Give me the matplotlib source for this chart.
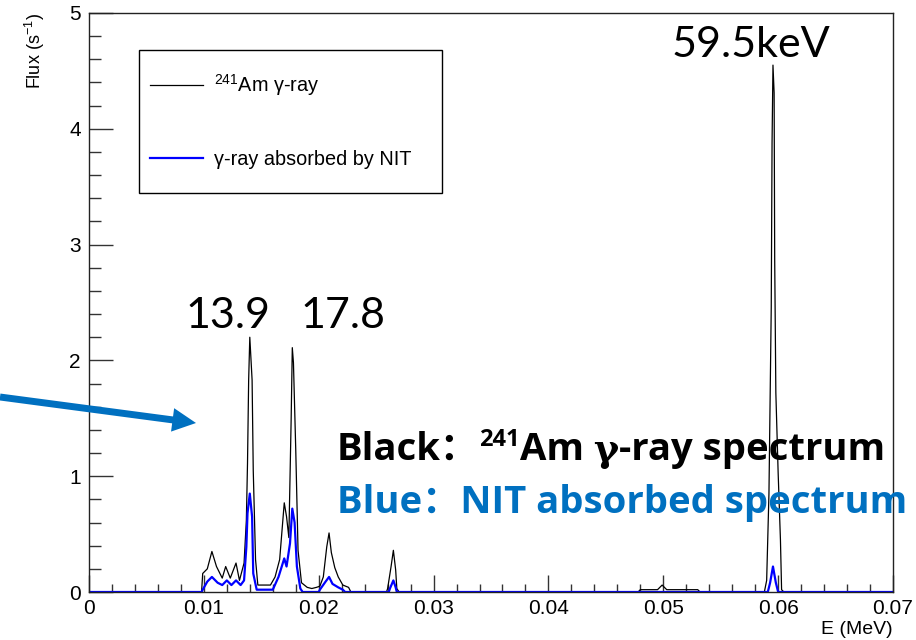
import matplotlib
matplotlib.use("Agg")
import matplotlib.pyplot as plt
from matplotlib.ticker import MultipleLocator
from matplotlib.patches import Rectangle

plt.rcParams['font.family'] = ['Liberation Sans', 'DejaVu Sans']
plt.rcParams['mathtext.fontset'] = 'custom'
plt.rcParams['mathtext.rm'] = 'Liberation Sans'
plt.rcParams['mathtext.it'] = 'Liberation Sans:italic'
plt.rcParams['mathtext.bf'] = 'Liberation Sans:bold'

# ---------------- data ----------------
black_E = [0.0, 0.0098, 0.0099, 0.0103, 0.0107, 0.0111, 0.0116, 0.0119, 0.0123, 0.0128,
           0.0131, 0.0135, 0.0137, 0.0138, 0.0139, 0.0140, 0.0142, 0.0143, 0.0145, 0.0147,
           0.0158, 0.0162, 0.0166, 0.0170, 0.0172, 0.0174, 0.0176, 0.0177, 0.0178, 0.0180,
           0.0182, 0.0185, 0.0190, 0.0194, 0.0198, 0.0201, 0.0204, 0.0207, 0.0209, 0.0211,
           0.0214, 0.0217, 0.0221, 0.0226, 0.0228, 0.0259, 0.0260, 0.0263, 0.0265, 0.0267,
           0.0268, 0.0270, 0.0478, 0.0480, 0.0495, 0.0499, 0.0503, 0.0530, 0.0532, 0.0588,
           0.0590, 0.0592, 0.0594, 0.05947, 0.05955, 0.05965, 0.0597, 0.0598, 0.0600, 0.0602,
           0.0603, 0.0605, 0.0700]
black_F = [0, 0, 0.16, 0.20, 0.35, 0.22, 0.12, 0.22, 0.12, 0.25,
           0.10, 0.25, 0.62, 1.11, 1.83, 2.20, 1.83, 1.05, 0.28, 0.06,
           0.06, 0.13, 0.28, 0.77, 0.65, 0.47, 1.49, 2.11, 1.98, 1.23,
           0.36, 0.08, 0.04, 0.03, 0.04, 0.05, 0.13, 0.39, 0.51, 0.34,
           0.21, 0.13, 0.06, 0.04, 0.0, 0.0, 0.03, 0.22, 0.36, 0.19,
           0.03, 0.0, 0.0, 0.02, 0.02, 0.06, 0.02, 0.02, 0.0, 0.0,
           0.10, 0.85, 2.46, 3.88, 4.55, 4.31, 2.87, 1.72, 1.03, 0.45,
           0.02, 0.0, 0.0]

blue_E = [0.0, 0.0098, 0.0099, 0.0103, 0.0107, 0.0112, 0.0116, 0.0120, 0.0124, 0.0128,
          0.0132, 0.0135, 0.0137, 0.0138, 0.0140, 0.0142, 0.0143, 0.0146, 0.0160, 0.0165,
          0.0170, 0.0172, 0.0175, 0.0177, 0.0179, 0.0181, 0.0184, 0.0186, 0.0200, 0.0201,
          0.0206, 0.0209, 0.0212, 0.0217, 0.0221, 0.0223, 0.0261, 0.0262, 0.0265, 0.0267,
          0.0268, 0.0591, 0.0593, 0.05955, 0.0598, 0.0600, 0.0700]
blue_F = [0, 0, 0.02, 0.09, 0.13, 0.08, 0.06, 0.10, 0.06, 0.10,
          0.06, 0.10, 0.39, 0.68, 0.85, 0.65, 0.16, 0.02, 0.02, 0.13,
          0.29, 0.22, 0.42, 0.72, 0.60, 0.22, 0.03, 0, 0, 0.02,
          0.09, 0.13, 0.07, 0.04, 0.02, 0, 0, 0.03, 0.10, 0.04,
          0, 0, 0.08, 0.22, 0.08, 0, 0]

x_ticks = [0, 0.01, 0.02, 0.03, 0.04, 0.05, 0.06, 0.07]
x_tick_labels = ["0", "0.01", "0.02", "0.03", "0.04", "0.05", "0.06", "0.07"]
y_ticks = [0, 1, 2, 3, 4, 5]
y_tick_labels = ["0", "1", "2", "3", "4", "5"]

peak_labels = ["13.9", "17.8", "59.5keV"]
peak_label_E = [0.0121, 0.0221, 0.0576]
peak_label_F = [2.28, 2.28, 4.62]

# ---------------- figure ----------------
fig = plt.figure(figsize=(9.16, 6.4), dpi=100)
ax = fig.add_axes([89/916, 48/640, 804/916, 579/640])

ax.plot(black_E, black_F, color='black', lw=0.9, label=r'$^{241}$Am γ-ray')
ax.plot(blue_E, blue_F, color='#0000ff', lw=1.6, label='γ-ray absorbed by NIT')

ax.set_xlim(0, 0.07)
ax.set_ylim(0, 5)
ax.set_xticks(x_ticks)
ax.set_xticklabels(x_tick_labels)
ax.set_yticks(y_ticks)
ax.set_yticklabels(y_tick_labels)
ax.xaxis.set_minor_locator(MultipleLocator(0.002))
ax.yaxis.set_minor_locator(MultipleLocator(0.2))
ax.tick_params(axis='both', which='both', direction='in', top=False, right=False,
               color='#333333', width=1.0, labelsize=15)
ax.tick_params(axis='x', which='major', length=12.5, pad=5)
ax.tick_params(axis='x', which='minor', length=6)
ax.tick_params(axis='y', which='major', length=17, pad=6)
ax.tick_params(axis='y', which='minor', length=8.5)
for s in ax.spines.values():
    s.set_color('#222222')
    s.set_linewidth(1.0)

ax.set_xlabel('E (MeV)', loc='right', fontsize=14, labelpad=2)
ax.set_ylabel(r'Flux (s$^{-1}$)', loc='top', fontsize=13, labelpad=16)

# legend (frame drawn as a separate box to match the reference proportions)
ax.add_patch(Rectangle((0.0622, 0.689), 0.3770, 0.247, transform=ax.transAxes,
                       facecolor='white', edgecolor='black', lw=1.0, zorder=4))
leg = ax.legend(loc='upper left', bbox_to_anchor=(0.0759, 0.898), borderaxespad=0,
                fontsize=14.3, frameon=False, handlelength=2.65, handletextpad=0.55,
                labelspacing=2.6, borderpad=0)
leg.set_zorder(5)

# peak annotations (Calibri-like)
for lab, e, f in zip(peak_labels, peak_label_E, peak_label_F):
    ax.text(e, f, lab, ha='center', va='baseline', fontsize=31, family='Lato', color='black')

# bold captions, built from chained pieces
bold = dict(fontsize=27.5, fontweight='bold', family=['Open Sans', 'Noto Sans CJK SC', 'DejaVu Sans'])
sup = dict(fontsize=17, fontweight='bold', family=['Open Sans', 'DejaVu Sans'])
gam = dict(fontsize=27.5, fontweight='bold', family=['DejaVu Serif'])

t1 = ax.annotate('Black：', xy=(337/916, 1 - 460/640), xycoords='figure fraction',
                 va='baseline', ha='left', color='black', **bold)
t2 = ax.annotate('241', xy=(1, 0.45), xycoords=t1, va='bottom', ha='left',
                 color='black', **sup)
t3 = ax.annotate('Am ', xy=(1, 0), xycoords=(t2, t1), va='bottom', ha='left',
                 color='black', **bold)
t4 = ax.annotate('γ', xy=(1, 0), xycoords=(t3, t1), va='bottom', ha='left',
                 color='black', **gam)
t5 = ax.annotate('-ray spectrum', xy=(1, 0), xycoords=(t4, t1), va='bottom', ha='left',
                 color='black', **bold)

ax.annotate('Blue：NIT absorbed spectrum', xy=(337/916, 1 - 513/640),
            xycoords='figure fraction', va='baseline', ha='left', color='#0070c0', **bold)

# arrow from the left edge
ax.annotate('', xy=(196/916, 1 - 423/640), xytext=(0.0, 1 - 397/640),
            xycoords='figure fraction', textcoords='figure fraction',
            arrowprops=dict(arrowstyle='simple,head_width=3.4,head_length=3.4,tail_width=1.0',
                            mutation_scale=5, color='#0070c0', lw=0, shrinkA=0, shrinkB=0),
            annotation_clip=False)

fig.savefig('out.png', dpi=100)
